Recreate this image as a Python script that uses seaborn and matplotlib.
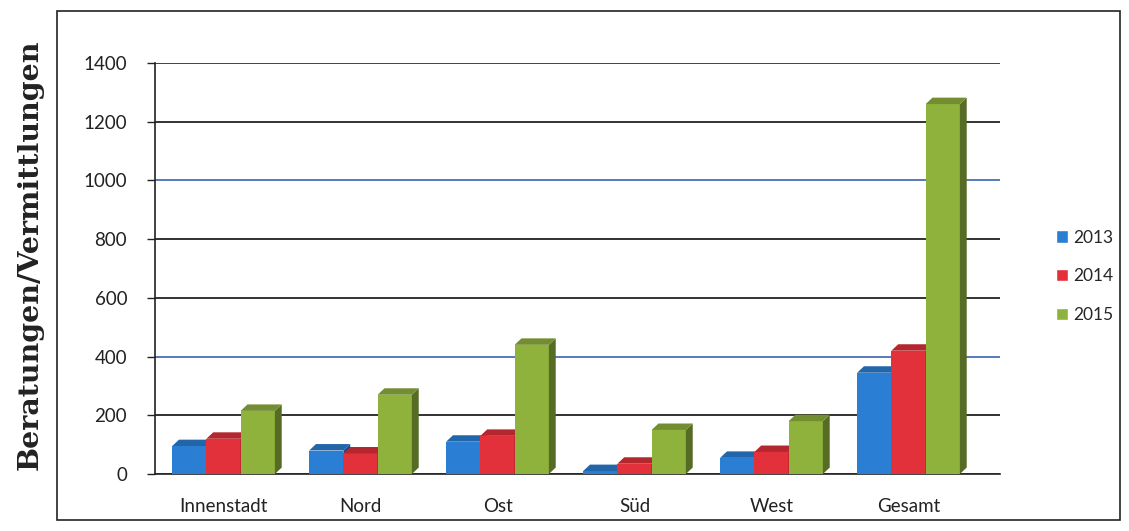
import numpy as np
import pandas as pd
import matplotlib
matplotlib.use("Agg")
import matplotlib.pyplot as plt
import seaborn as sns
from matplotlib.patches import Polygon, Rectangle
from matplotlib.colors import to_rgb

# Daten
bezirke = ["Innenstadt", "Nord", "Ost", "Süd", "West", "Gesamt"]
jahre = ["2013", "2014", "2015"]
werte_2013 = [95, 80, 110, 10, 55, 345]
werte_2014 = [120, 70, 130, 35, 75, 420]
werte_2015 = [215, 270, 440, 150, 180, 1260]
y_ticks = [0, 200, 400, 600, 800, 1000, 1200, 1400]

farben = ["#2a7fd4", "#e2313b", "#8fb23c"]
grid_farben = ["#3a4a6a", "#222222", "#4a6fb0", "#222222", "#222222", "#4a6fb0", "#222222", "#333333"]

df = pd.DataFrame({
    "Bezirk": bezirke * 3,
    "Jahr": [j for j in jahre for _ in bezirke],
    "Wert": werte_2013 + werte_2014 + werte_2015,
})

sns.set_style("white")
plt.rcParams["font.family"] = ["Lato", "DejaVu Sans"]

fig = plt.figure(figsize=(11.29, 5.31), dpi=100)
ax = fig.add_axes([155 / 1129, 57 / 531, 845 / 1129, 411 / 531])

sns.barplot(data=df, x="Bezirk", y="Wert", hue="Jahr", order=bezirke,
            hue_order=jahre, palette=farben, width=0.75, ax=ax,
            saturation=1, linewidth=0, legend=False)

# pseudo-3D Seiten- und Deckflächen aus den gezeichneten Balken
dx, dy = 0.05, 22
n = len(bezirke)
for i, p in enumerate(ax.patches[: 3 * n]):
    k = i // n
    p.set_zorder(3 + k)
    x0, w, h = p.get_x(), p.get_width(), p.get_height()
    c = np.array(to_rgb(p.get_facecolor()))
    seite = Polygon([(x0 + w, 0), (x0 + w + dx, dy), (x0 + w + dx, h + dy), (x0 + w, h)],
                    closed=True, facecolor=c * 0.6, edgecolor="none", zorder=3 + k)
    deck = Polygon([(x0, h), (x0 + dx, h + dy), (x0 + w + dx, h + dy), (x0 + w, h)],
                   closed=True, facecolor=c * 0.8, edgecolor="none", zorder=3 + k)
    ax.add_patch(seite)
    ax.add_patch(deck)

ax.set_ylim(0, 1400)
ax.set_xlim(-0.5, -0.5 + 845 / 137)
ax.set_yticks(y_ticks)
ax.set_yticklabels([str(t) for t in y_ticks])
ax.set_xticks(range(n))
ax.set_xticklabels(bezirke)
ax.set_xticks(np.arange(-0.5, n, 1), minor=True)
ax.tick_params(axis="x", which="major", length=0, labelsize=13.5, pad=17, colors="#222222")
ax.tick_params(axis="x", which="minor", length=6, width=1, color="#222222", direction="out")
ax.tick_params(axis="y", length=6, width=1, color="#222222", left=True, labelsize=13.5,
               colors="#222222", pad=14)

ax.yaxis.grid(True, linewidth=1.3)
for gl, col in zip(ax.get_ygridlines(), grid_farben):
    gl.set_color(col)
ax.set_axisbelow(True)

for s in ["top", "right"]:
    ax.spines[s].set_visible(False)
for s in ["left", "bottom"]:
    ax.spines[s].set_color("#222222")
    ax.spines[s].set_linewidth(1.2)

ax.set_xlabel("")
ax.set_ylabel("")
fig.text(30 / 1129, 0.52, "Beratungen/Vermittlungen", rotation=90, ha="center",
         va="center", fontsize=20.5, fontweight="bold", family=["DejaVu Serif"],
         color="#222222")

# Legende
handles = [Rectangle((0, 0), 1, 1, facecolor=f) for f in farben]
fig.legend(handles, jahre, loc="center left", bbox_to_anchor=(1040 / 1129, 0.48),
           frameon=False, fontsize=12.5, handlelength=0.7, handleheight=0.7,
           labelspacing=1.3, handletextpad=0.3)

# äußerer Rahmen
fig.patches.append(Rectangle((57 / 1129, 11 / 531), 1063 / 1129, 509 / 531,
                             transform=fig.transFigure, fill=False,
                             edgecolor="#222222", linewidth=1.2))

fig.savefig("out.png", dpi=100)
